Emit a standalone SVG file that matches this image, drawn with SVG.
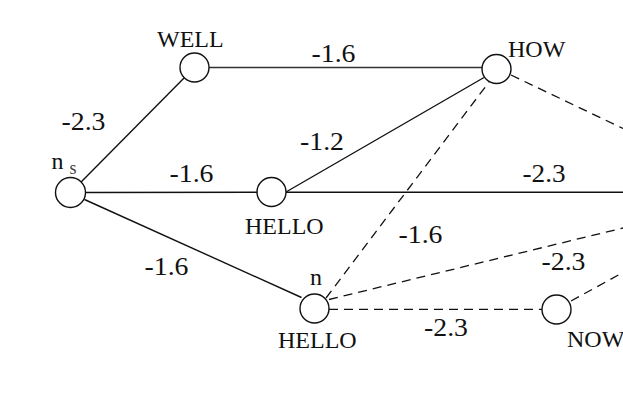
<svg xmlns="http://www.w3.org/2000/svg" width="623" height="403" viewBox="0 0 623 403">
<style>
.node{fill:#fff;stroke:#111;stroke-width:1.4}
.solid{stroke:#111;stroke-width:1.4;fill:none}
.dash{stroke:#111;stroke-width:1.3;fill:none;stroke-dasharray:9 6}
.lbl{font-family:"Liberation Serif","Times New Roman",serif;font-size:24px;fill:#111}
.num{font-family:"Liberation Serif","Times New Roman",serif;font-size:25px;fill:#111}
.sub{font-family:"Liberation Serif","Times New Roman",serif;font-size:18px;fill:#444}
</style>
<rect width="623" height="403" fill="#fff"/>
<g id="connectors">
<line class="solid" x1="81.1" y1="181.9" x2="184.3" y2="77.8"/>
<line class="solid" x1="209" y1="67.5" x2="482" y2="67.5" style="stroke:#333;stroke-width:1.7"/>
<line class="solid" x1="85.5" y1="192.5" x2="257" y2="192.3"/>
<line class="solid" x1="286" y1="192" x2="484" y2="77.5"/>
<line class="solid" x1="286" y1="192.2" x2="623" y2="192.2"/>
<line class="solid" x1="84.5" y1="199.5" x2="301.5" y2="297.5"/>
<line class="dash" x1="326" y1="298" x2="489" y2="82"/>
<line class="dash" x1="511" y1="75" x2="623" y2="128.5"/>
<line class="dash" x1="329" y1="299.5" x2="623" y2="228"/>
<line class="dash" x1="329" y1="309.3" x2="542" y2="309.3"/>
<line class="dash" x1="571" y1="301" x2="623" y2="272.5"/>
</g>
<g id="node-ns">
<circle class="node" cx="70.5" cy="192.5" r="15"/>
<text class="lbl" x="51.5" y="168.5">n</text><text class="sub" x="69.5" y="174">s</text>
</g>
<g id="node-well">
<circle class="node" cx="194.5" cy="67.5" r="14.5"/>
<text class="lbl" x="157" y="46.5">WELL</text>
</g>
<g id="node-hello1">
<circle class="node" cx="271.5" cy="192" r="14.5"/>
<text class="lbl" x="245" y="234">HELLO</text>
</g>
<g id="node-how">
<circle class="node" cx="496.5" cy="69" r="14.5"/>
<text class="lbl" x="508" y="56.5">HOW</text>
</g>
<g id="node-hello2">
<circle class="node" cx="314.5" cy="308.5" r="14.5"/>
<text class="lbl" x="310" y="285">n</text>
<text class="lbl" x="278" y="347.5">HELLO</text>
</g>
<g id="node-now">
<circle class="node" cx="556.5" cy="309.5" r="14.5"/>
<text class="lbl" x="567" y="347">NOW</text>
</g>
<g id="weights">
<text class="num" x="61.5" y="130" textLength="44" lengthAdjust="spacingAndGlyphs">-2.3</text>
<text class="num" x="169.5" y="181.5" textLength="44" lengthAdjust="spacingAndGlyphs">-1.6</text>
<text class="num" x="311.5" y="62" textLength="44" lengthAdjust="spacingAndGlyphs">-1.6</text>
<text class="num" x="300" y="150" textLength="44" lengthAdjust="spacingAndGlyphs">-1.2</text>
<text class="num" x="522.5" y="181.5" textLength="43" lengthAdjust="spacingAndGlyphs">-2.3</text>
<text class="num" x="398.5" y="243" textLength="44" lengthAdjust="spacingAndGlyphs">-1.6</text>
<text class="num" x="541.5" y="270" textLength="44" lengthAdjust="spacingAndGlyphs">-2.3</text>
<text class="num" x="144.5" y="275" textLength="44" lengthAdjust="spacingAndGlyphs">-1.6</text>
<text class="num" x="424" y="336" textLength="44" lengthAdjust="spacingAndGlyphs">-2.3</text>
</g>
</svg>
